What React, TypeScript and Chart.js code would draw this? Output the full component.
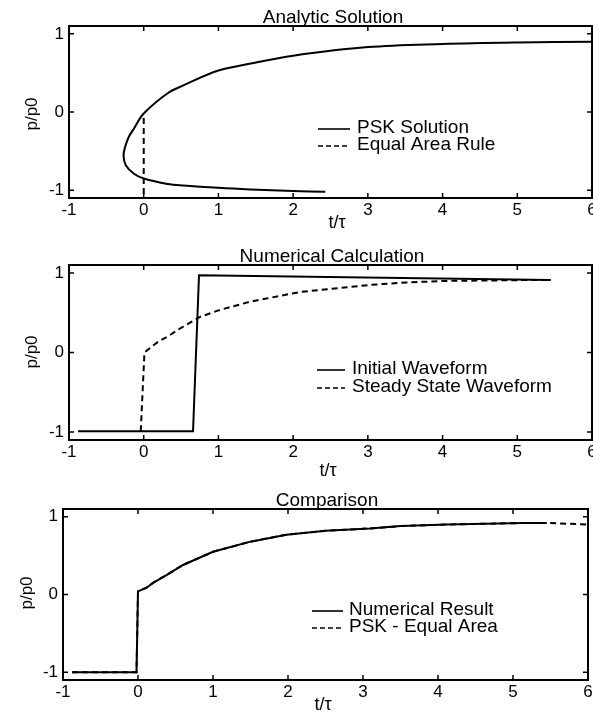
import React, { useEffect, useRef } from 'react';
import { Chart, registerables } from 'chart.js';

Chart.register(...registerables);

// ---------- Data ----------
const X_TICKS = [-1, 0, 1, 2, 3, 4, 5, 6];
const Y_TICKS = [-1, 0, 1];

// Panel 1 – Analytic Solution
const pskT = [2.43, 2.0, 1.43, 1.0, 0.53, 0.32, 0.0, -0.13, -0.24, -0.27, -0.25, -0.2, -0.13, 0.0, 0.32, 0.53, 1.0, 1.43, 2.0, 3.0, 4.0, 5.0, 6.0];
const pskP = [-1.02, -1.01, -0.99, -0.97, -0.94, -0.92, -0.85, -0.79, -0.68, -0.56, -0.45, -0.32, -0.21, -0.02, 0.24, 0.34, 0.53, 0.62, 0.72, 0.83, 0.87, 0.89, 0.9];
const eqAreaT = [0.0, 0.0];
const eqAreaP = [-1.05, -0.05];

// Panel 2 – Numerical Calculation
const initT = [-0.88, 0.66, 0.74, 5.45];
const initP = [-0.99, -0.99, 0.97, 0.91];
const steadyT = [-0.04, 0.01, 0.1, 0.2, 0.32, 0.5, 0.76, 1.0, 1.43, 2.09, 2.5, 3.03, 3.5, 4.05, 5.07, 5.45];
const steadyP = [-0.99, 0.0, 0.07, 0.14, 0.2, 0.31, 0.45, 0.53, 0.64, 0.76, 0.8, 0.85, 0.88, 0.9, 0.91, 0.91];

// Panel 3 – Comparison
const numT = [-0.88, -0.02, 0.0, 0.12, 0.2, 0.38, 0.6, 1.0, 1.5, 1.98, 2.5, 3.09, 3.5, 4.12, 5.14, 5.45];
const numP = [-1.0, -1.0, 0.04, 0.09, 0.15, 0.25, 0.38, 0.55, 0.68, 0.77, 0.82, 0.85, 0.88, 0.9, 0.92, 0.92];
const pskEqT = [-0.88, -0.02, 0.0, 0.12, 0.2, 0.38, 0.6, 1.0, 1.5, 1.98, 2.5, 3.09, 3.5, 4.12, 5.14, 5.45, 6.03];
const pskEqP = [-1.0, -1.0, 0.04, 0.09, 0.15, 0.25, 0.38, 0.55, 0.68, 0.77, 0.82, 0.85, 0.88, 0.9, 0.92, 0.92, 0.9];

const FONT = '"Liberation Sans", Arial, Helvetica, sans-serif';
const CANVAS_W = 620;

const toPoints = (xs: number[], ys: number[]) => xs.map((x, i) => ({ x, y: ys[i] }));

const matlabPlugin = {
  id: 'matlab',
  afterDraw(chart: any, _args: any, opts: any) {
    const { ctx, chartArea: a, scales } = chart;
    const xs = scales.x;
    const ys = scales.y;
    const off = opts.offsetTop;
    ctx.save();
    // frame
    ctx.strokeStyle = '#000';
    ctx.lineWidth = 2;
    ctx.strokeRect(a.left, a.top, a.right - a.left, a.bottom - a.top);
    // inward ticks
    ctx.lineWidth = 1.5;
    const tl = 5;
    ctx.beginPath();
    for (const t of X_TICKS) {
      const px = xs.getPixelForValue(t);
      ctx.moveTo(px, a.bottom);
      ctx.lineTo(px, a.bottom - tl);
      ctx.moveTo(px, a.top);
      ctx.lineTo(px, a.top + tl);
    }
    for (const t of Y_TICKS) {
      const py = ys.getPixelForValue(t);
      ctx.moveTo(a.left, py);
      ctx.lineTo(a.left + tl, py);
      ctx.moveTo(a.right, py);
      ctx.lineTo(a.right - tl, py);
    }
    ctx.stroke();

    ctx.fillStyle = '#000';
    // title
    ctx.font = `19px ${FONT}`;
    ctx.textAlign = 'center';
    ctx.textBaseline = 'alphabetic';
    ctx.fillText(opts.title, opts.titleX, opts.titleY - off);
    // x label
    ctx.font = `18px ${FONT}`;
    ctx.textBaseline = 'middle';
    ctx.fillText('t/\u03c4', opts.xlabX, opts.xlabY - off);
    // y label
    ctx.save();
    ctx.translate(opts.ylabX, opts.ylabY - off);
    ctx.rotate(-Math.PI / 2);
    ctx.font = `17px ${FONT}`;
    ctx.fillText('p/p0', 0, 0);
    ctx.restore();

    // legend
    const lg = opts.legend;
    ctx.font = `19px ${FONT}`;
    ctx.textAlign = 'left';
    ctx.textBaseline = 'middle';
    chart.data.datasets.forEach((ds: any, i: number) => {
      const y = lg.rows[i] - off;
      ctx.beginPath();
      ctx.lineWidth = 1.6;
      ctx.setLineDash(ds.borderDash && ds.borderDash.length ? [5, 3] : []);
      ctx.moveTo(lg.x0, y + 1);
      ctx.lineTo(lg.x1, y + 1);
      ctx.stroke();
      ctx.setLineDash([]);
      ctx.fillText(ds.label, lg.tx, y);
    });
    ctx.restore();
  },
};

type PanelProps = {
  top: number;
  height: number;
  area: { left: number; right: number; top: number; bottom: number };
  datasets: any[];
  title: string;
  titlePos: [number, number];
  xlabPos: [number, number];
  ylabPos: [number, number];
  legend: { x0: number; x1: number; tx: number; rows: number[] };
};

function Panel(p: PanelProps) {
  const ref = useRef<HTMLCanvasElement | null>(null);
  useEffect(() => {
    if (!ref.current) return;
    const { area, top, height } = p;
    const tickFont = { family: FONT, size: 17 };
    const chart = new Chart(ref.current, {
      type: 'scatter',
      data: { datasets: p.datasets },
      plugins: [matlabPlugin],
      options: {
        animation: false,
        responsive: false,
        maintainAspectRatio: false,
        events: [],
        layout: {
          padding: { left: 0, top: area.top - top, right: CANVAS_W - area.right, bottom: 0 },
        },
        plugins: {
          legend: { display: false },
          tooltip: { enabled: false },
          title: { display: false },
          matlab: {
            offsetTop: top,
            title: p.title,
            titleX: p.titlePos[0],
            titleY: p.titlePos[1],
            xlabX: p.xlabPos[0],
            xlabY: p.xlabPos[1],
            ylabX: p.ylabPos[0],
            ylabY: p.ylabPos[1],
            legend: p.legend,
          },
        } as any,
        scales: {
          x: {
            type: 'linear',
            min: -1,
            max: 6,
            afterBuildTicks: (s: any) => {
              s.ticks = X_TICKS.map((v) => ({ value: v }));
            },
            afterFit: (s: any) => {
              s.height = height - (area.bottom - top);
              s.paddingLeft = 0;
              s.paddingRight = 0;
            },
            ticks: { font: tickFont, color: '#000', padding: 2, maxRotation: 0, autoSkip: false },
            grid: { display: false, drawTicks: false },
            border: { display: false },
          },
          y: {
            type: 'linear',
            min: -1.1,
            max: 1.1,
            afterBuildTicks: (s: any) => {
              s.ticks = Y_TICKS.map((v) => ({ value: v }));
            },
            afterFit: (s: any) => {
              s.width = area.left;
              s.paddingTop = 0;
              s.paddingBottom = 0;
            },
            ticks: { font: tickFont, color: '#000', padding: 5 },
            grid: { display: false, drawTicks: false },
            border: { display: false },
          },
        },
      } as any,
    });
    return () => chart.destroy();
  }, []);
  return (
    <canvas
      ref={ref}
      width={CANVAS_W}
      height={p.height}
      style={{ position: 'absolute', left: 0, top: p.top, width: CANVAS_W, height: p.height }}
    />
  );
}

const solid = (label: string, xs: number[], ys: number[], tension = 0) => ({
  label,
  data: toPoints(xs, ys),
  showLine: true,
  borderColor: '#000',
  backgroundColor: '#000',
  borderWidth: 2,
  pointRadius: 0,
  borderDash: [] as number[],
  tension,
});
const dashed = (label: string, xs: number[], ys: number[]) => ({
  ...solid(label, xs, ys),
  borderDash: [6, 4],
});

export default function App() {
  return (
    <div
      style={{
        position: 'absolute',
        left: 0,
        top: 0,
        width: 593,
        height: 712,
        overflow: 'hidden',
        background: '#fff',
      }}
    >
      <Panel
        top={0}
        height={236}
        area={{ left: 69, right: 592, top: 26, bottom: 198 }}
        datasets={[solid('PSK Solution', pskT, pskP, 0.35), dashed('Equal Area Rule', eqAreaT, eqAreaP)]}
        title="Analytic Solution"
        titlePos={[333, 23]}
        xlabPos={[337, 223]}
        ylabPos={[32, 114]}
        legend={{ x0: 318, x1: 350, tx: 357, rows: [128, 145] }}
      />
      <Panel
        top={236}
        height={246}
        area={{ left: 69, right: 592, top: 265, bottom: 440 }}
        datasets={[solid('Initial Waveform', initT, initP), dashed('Steady State Waveform', steadyT, steadyP)]}
        title="Numerical Calculation"
        titlePos={[332, 262]}
        xlabPos={[328, 471]}
        ylabPos={[32, 352]}
        legend={{ x0: 317, x1: 345, tx: 352, rows: [369, 387] }}
      />
      <Panel
        top={482}
        height={230}
        area={{ left: 63, right: 588, top: 509, bottom: 680 }}
        datasets={[solid('Numerical Result', numT, numP), dashed('PSK - Equal Area', pskEqT, pskEqP)]}
        title="Comparison"
        titlePos={[327, 506]}
        xlabPos={[323, 705]}
        ylabPos={[27, 593]}
        legend={{ x0: 312, x1: 343, tx: 349, rows: [610, 627] }}
      />
    </div>
  );
}
